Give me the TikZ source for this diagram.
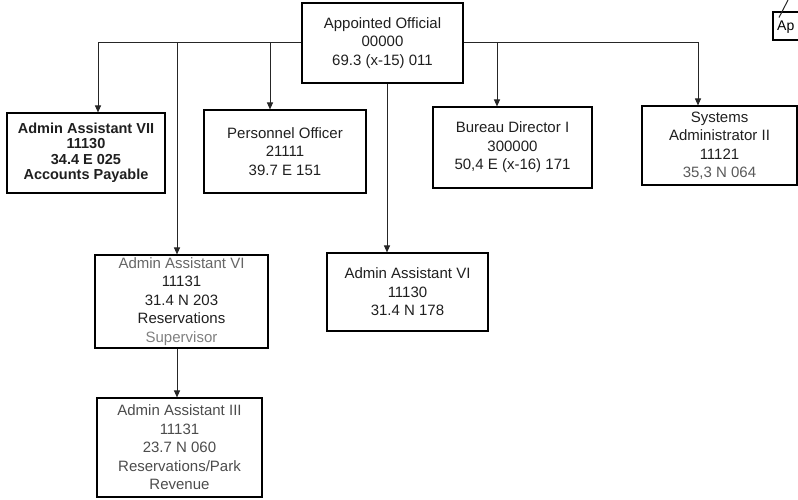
\documentclass[tikz,border=0pt]{standalone}
\usepackage{fontspec}
\setmainfont{Liberation Sans}
\usetikzlibrary{arrows.meta}
\begin{document}
\begin{tikzpicture}[x=1pt,y=-1pt,
 box/.style={draw, line width=1.1pt, align=center, inner sep=0pt, text=black!88, font=\fontsize{15}{18.5}\selectfont},
 arr/.style={line width=1pt, draw=black!85, -{Triangle[length=7pt,width=6pt]}},
 ln/.style={line width=1pt, draw=black!85}]
\useasboundingbox (0,0) rectangle (798,500);

\node[box, minimum width=161pt, minimum height=80pt] (top) at (382.5,43) {Appointed Official\\00000\\69.3 (x-15) 011};
\node[box, minimum width=158pt, minimum height=80pt, font=\bfseries\fontsize{14.5}{15.5}\selectfont] (aa7) at (86,153) {Admin Assistant VII\\11130\\34.4 E 025\\Accounts Payable};
\node[box, minimum width=162pt, minimum height=83pt] (pers) at (285,151.5) {Personnel Officer\\21111\\39.7 E 151};
\node[box, minimum width=159pt, minimum height=81pt] (bur) at (512.5,147.5) {Bureau Director I\\300000\\50,4 E (x-16) 171};
\node[box, minimum width=155pt, minimum height=79pt] (sys) at (719.5,145.5) {Systems\\Administrator II\\11121\\{\color{black!65}35,3 N 064}};
\node[box, minimum width=173pt, minimum height=93pt] (aa6a) at (181.5,301.5) {{\color{black!60}Admin Assistant VI}\\11131\\31.4 N 203\\Reservations\\{\color{black!50}Supervisor}};
\node[box, minimum width=161pt, minimum height=78pt] (aa6b) at (407.5,292) {Admin Assistant VI\\11130\\31.4 N 178};
\node[box, minimum width=165pt, minimum height=99pt, text=black!70] (aa3) at (179.5,447.5) {Admin Assistant III\\11131\\23.7 N 060\\Reservations/Park\\Revenue};

% partial box at top right
\draw[line width=1.1pt] (800,12) -- (773,12) -- (773,40) -- (800,40);
\node[anchor=west, inner sep=0pt, font=\fontsize{14}{16}\selectfont] (ap) at (777,27) {Ap};
\coordinate (apl) at (788,0);
\draw[ln] (ap.north west) ++(2,-3) -- (apl);

% bus coordinates
\coordinate (dA) at (98,0);
\coordinate (dB) at (177,0);
\coordinate (dP) at (270,0);
\coordinate (dC) at (387,0);
\coordinate (dD) at (497,0);
\coordinate (dE) at (698,0);

\draw[arr] (top.west) -| (aa7.north -| dA);
\draw[arr] (top.west -| dB) -- (aa6a.north -| dB);
\draw[arr] (top.west -| dP) -- (pers.north -| dP);
\draw[arr] (top.east) -| (sys.north -| dE);
\draw[arr] (top.east -| dD) -- (bur.north -| dD);
\draw[arr] (top.south -| dC) -- (aa6b.north -| dC);
\draw[arr] (aa6a.south -| dB) -- (aa3.north -| dB);
\end{tikzpicture}
\end{document}
